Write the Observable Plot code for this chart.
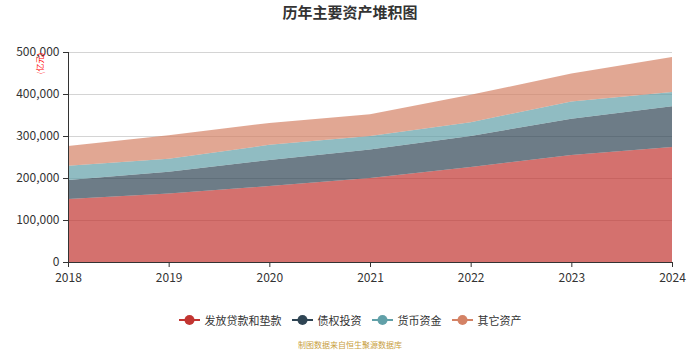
<!DOCTYPE html>
<html><head><meta charset="utf-8">
<script src="https://cdn.jsdelivr.net/npm/d3@7"></script>
<script src="https://cdn.jsdelivr.net/npm/@observablehq/plot@0.6"></script>
<style>
body{margin:0;background:#fff;font-family:"Noto Sans CJK SC","Noto Sans",sans-serif;}
#wrap{position:relative;width:700px;height:350px;overflow:hidden;}
#title{position:absolute;top:0;left:0;width:700px;text-align:center;font-size:15px;font-weight:bold;color:#333;line-height:24px;top:0px;}
#chart{position:absolute;top:40px;left:0;}
#legend{position:absolute;top:312px;left:0;width:700px;display:flex;justify-content:center;gap:10px;font-size:11px;color:#333;align-items:center;}
.item{display:flex;align-items:center;gap:5px;}
#caption{position:absolute;top:339px;left:0;width:700px;text-align:center;font-size:8px;color:#c8a040;}
</style></head>
<body><div id="wrap">
<div id="title">历年主要资产堆积图</div>
<div id="chart"></div>
<div id="legend"></div>
<div id="caption">制图数据来自恒生聚源数据库</div>
</div>
<script>
const years = [2018, 2019, 2020, 2021, 2022, 2023, 2024];
const seriesNames = ["发放贷款和垫款", "债权投资", "货币资金", "其它资产"];
const colors = ["#c23531", "#2f4554", "#61a0a8", "#d48265"];
const loans = [150000, 163000, 181000, 200000, 226000, 255000, 274000];
const debt = [45000, 52000, 62000, 68000, 74000, 86000, 97000];
const cash = [34000, 31000, 36000, 32000, 33000, 41000, 34000];
const other = [47000, 56000, 52000, 52000, 65000, 67000, 83000];
const yTicks = [0, 100000, 200000, 300000, 400000, 500000];

const allSeries = [loans, debt, cash, other];
const data = [];
allSeries.forEach((vals, si) => vals.forEach((v, i) => data.push({year: years[i], series: seriesNames[si], value: v})));

const fmt = d3.format(",");
const chart = Plot.plot({
  width: 700, height: 250,
  marginTop: 12, marginBottom: 28, marginLeft: 68, marginRight: 28,
  style: {fontFamily: '"Noto Sans CJK SC","Noto Sans",sans-serif', fontSize: "12px", color: "#333"},
  x: {domain: [2018, 2024], ticks: years, tickFormat: d => String(d), label: null, tickSize: 5},
  y: {domain: [0, 500000], ticks: yTicks, tickFormat: fmt, label: null, tickSize: 5},
  color: {domain: seriesNames, range: colors},
  marks: [
    Plot.gridY(yTicks.filter(d => d > 0), {stroke: "#d4d4d4", strokeOpacity: 1, strokeWidth: 1}),
    Plot.areaY(data, Plot.stackY({x: "year", y: "value", fill: "series", fillOpacity: 0.7, order: seriesNames})),
    Plot.axisX({ticks: years, tickFormat: d => String(d), tickSize: 5, tickPadding: 6, stroke: "#333", fill: "#333", fontSize: 12}),
    Plot.axisY({ticks: yTicks, tickFormat: fmt, tickSize: 5, stroke: "#333", fill: "#333", fontSize: 12}),
    Plot.ruleX([2018], {stroke: "#333"}),
    Plot.ruleY([0], {stroke: "#333"}),
    Plot.text(["(亿元)"], {frameAnchor: "top-left", dx: -28, dy: 11, rotate: -90, textAnchor: "middle", lineAnchor: "middle", fill: "red", fontSize: 8})
  ]
});
document.getElementById("chart").appendChild(chart);

const leg = document.getElementById("legend");
seriesNames.forEach((n, i) => {
  const it = document.createElement("div");
  it.className = "item";
  it.innerHTML = `<svg width="21" height="12"><line x1="0" x2="21" y1="6" y2="6" stroke="${colors[i]}" stroke-width="2"/><circle cx="10.5" cy="6" r="5" fill="${colors[i]}"/></svg><span>${n}</span>`;
  leg.appendChild(it);
});
</script>
</body></html>
